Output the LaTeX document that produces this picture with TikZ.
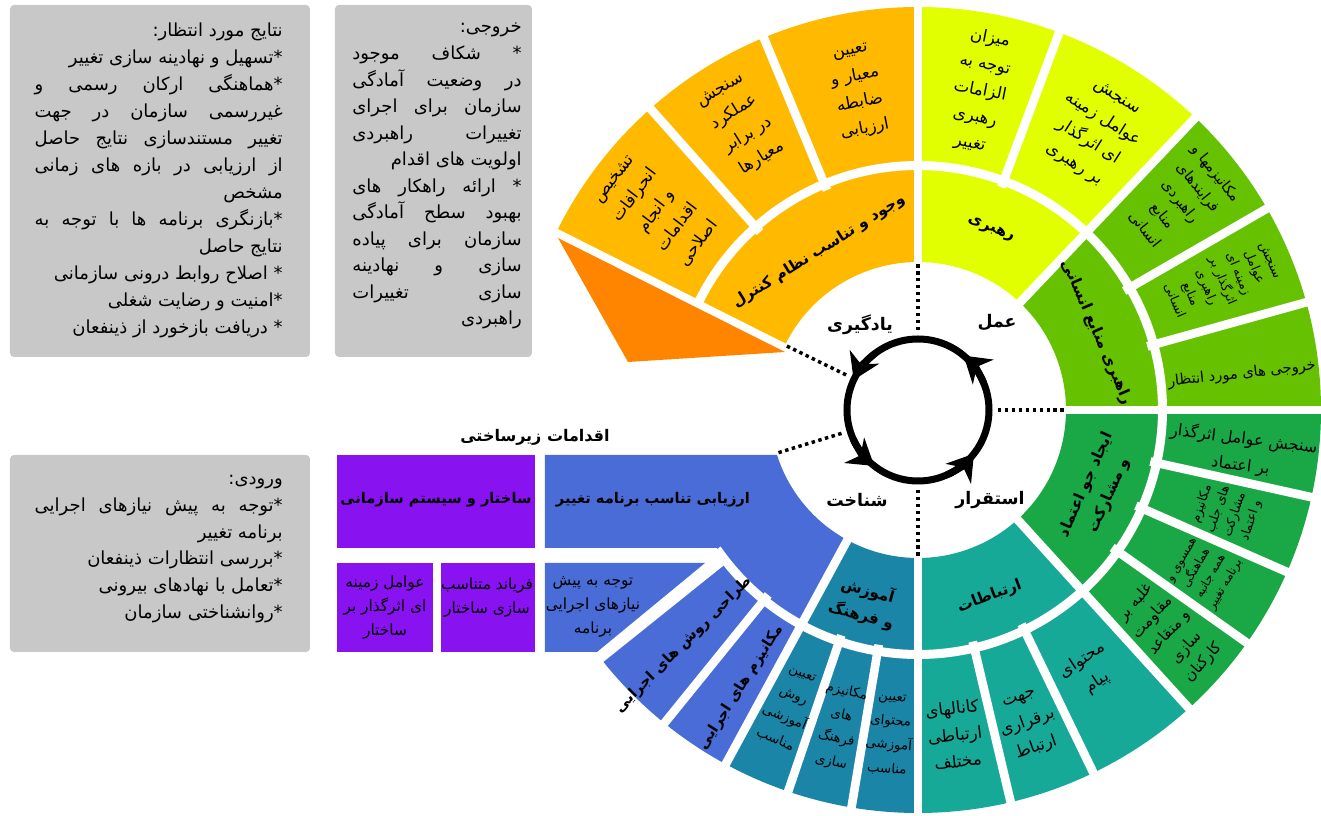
\documentclass[tikz,border=0pt]{standalone}
\usepackage{fontspec}
\usetikzlibrary{arrows.meta}
\newfontfamily\fa[Script=Arabic]{DejaVu Sans}
\TeXXeTstate=1
\newcommand{\rl}[1]{\beginR #1\endR}
\newdimen\bw
\newcommand{\JL}[1]{\hbox to \bw{\beginR #1\endR}}
\newcommand{\RL}[1]{\hbox to \bw{\hfil\beginR #1\endR}}
\newcommand{\sect}[5]{\fill[#1] (#2:#4) arc[start angle=#2, end angle=#3, radius=#4] -- (#3:#5) arc[start angle=#3, end angle=#2, radius=#5] -- cycle;}
\definecolor{cyel}{HTML}{E2FF00}
\definecolor{clg}{HTML}{66C200}
\definecolor{cdg}{HTML}{1AA846}
\definecolor{cteal}{HTML}{17A997}
\definecolor{cbt}{HTML}{1A85A6}
\definecolor{cblue}{HTML}{496CD6}
\definecolor{cpur}{HTML}{8912F0}
\definecolor{camb}{HTML}{FFBA00}
\definecolor{corg}{HTML}{FF8400}
\definecolor{cgray}{HTML}{C8C8C8}
\begin{document}
\begin{tikzpicture}[x=0.75pt,y=0.75pt,
 lab/.style={font=\fa\fontsize{12.5}{20}\selectfont, align=center, inner sep=0pt},
 labm/.style={font=\fa\fontsize{11}{17}\selectfont, align=center, inner sep=0pt},
 labt/.style={font=\fa\fontsize{10}{18}\selectfont, align=center, inner sep=0pt},
 labs/.style={font=\fa\fontsize{9.5}{13}\selectfont, align=center, inner sep=0pt},
 labb/.style={font=\fa\bfseries\fontsize{11}{18}\selectfont, align=center, inner sep=0pt},
 head/.style={font=\fa\bfseries\fontsize{13}{20}\selectfont, align=center, inner sep=0pt},
 headr/.style={font=\fa\bfseries\fontsize{11.5}{19}\selectfont, align=center, inner sep=0pt},
 gap/.style={white, line width=6.5pt},
 dotl/.style={line width=2.6pt, dash pattern=on 2.6pt off 2.6pt},
 gbox/.style={fill=cgray, rounded corners=3pt},
 boxtxt/.style={font=\fa\fontsize{13.5}{20}\selectfont, inner sep=0pt, anchor=base east}]
\useasboundingbox (-918,-406) rectangle (403,410);
% gray boxes
\fill[gbox] (-908,53) rectangle (-608,405);
\fill[gbox] (-583,53) rectangle (-386,405);
\fill[gbox] (-908,-242) rectangle (-608,-45);
% ring sectors
\sect{cyel}{46.5}{90}{148}{403}
\sect{clg}{0}{46.5}{148}{403}
\sect{cdg}{-47.75}{0}{148}{403}
\sect{cteal}{-90}{-47.75}{148}{403}
\sect{cbt}{-118.5}{-90}{148}{403}
\sect{cblue}{-141.3}{-118.5}{244}{403}
\sect{camb}{90}{153.3}{148}{403}
% big blue shape
\fill[cblue] (-373,-45) -- (-162.3:148) arc[start angle=-162.3, end angle=-118.5, radius=148] -- (-118.5:244) arc[start angle=-118.5, end angle=-145.6, radius=244] -- (-373,-138) -- cycle;
\fill[cblue] (-373,-153) -- (-213,-153) -- (-321,-242) -- (-373,-242) -- cycle;
% purple boxes
\fill[cpur] (-581,-138) rectangle (-383,-45);
\fill[cpur] (-581,-242) rectangle (-485,-153);
\fill[cpur] (-477,-242) rectangle (-383,-153);
% orange triangle
\fill[corg] (-360,172) -- (-133,58) -- (-290,48) -- cycle;
% white gaps
\foreach \a in {90,46.5,0,-47.75,-90,-118.5} \draw[gap] (\a:140) -- (\a:410);
\foreach \a in {69.5,30,15.5,-12.5,-23.7,-35.3,-64.2,-76.7,-99.5,-108.8,-129,112.5,131.6} \draw[gap] (\a:238) -- (\a:410);
\draw[white, line width=6.75pt] (-145.3:244.5) arc[start angle=-145.3, end angle=155, radius=244.5];
% dotted lines
\foreach \a in {90,0,-90,154,197} \draw[dotl] (\a:80) -- (\a:148);
% cycle arrows
\draw[line width=5.25pt] (0,0) circle[radius=71];
\foreach \s/\e in {22/50,127/155,204/232,-66/-38} \draw[line width=5.25pt,-{Stealth[length=19pt,width=24pt,inset=6pt]}] (\s:71) arc[start angle=\s, end angle=\e, radius=71];
\node[head] (l1) at (79,87) {\rl{عمل}};
\node[head] (l2) at (-58,85) {\rl{یادگیری}};
\node[head] (l3) at (-61,-90) {\rl{شناخت}};
\node[head] (l4) at (72,-90) {\rl{استقرار}};
% boxes text
\node[boxtxt] (b1) at (-635,373) {\vtop{\bw=186pt\baselineskip=20.2pt
\RL{نتایج مورد انتظار:}
\RL{*تسهیل و نهادینه سازی تغییر}
\JL{*هماهنگی ارکان رسمی و}
\JL{غیررسمی سازمان در جهت}
\JL{تغییر مستندسازی نتایج حاصل}
\JL{از ارزیابی در بازه های زمانی}
\RL{مشخص}
\JL{*بازنگری برنامه ها با توجه به}
\RL{نتایج حاصل}
\RL{* اصلاح روابط درونی سازمانی}
\RL{*امنیت و رضایت شغلی}
\RL{* دریافت بازخورد از ذینفعان}}};
\node[boxtxt] (b2) at (-396,377) {\vtop{\bw=127pt\baselineskip=19.9pt
\RL{خروجی:}
\JL{* شکاف موجود}
\JL{در وضعیت آمادگی}
\JL{سازمان برای اجرای}
\JL{تغییرات راهبردی}
\RL{اولویت های اقدام}
\JL{* ارائه راهکار های}
\JL{بهبود سطح آمادگی}
\JL{سازمان برای پیاده}
\JL{سازی و نهادینه}
\JL{سازی تغییرات}
\RL{راهبردی}}};
\node[boxtxt] (b3) at (-635,-75) {\vtop{\bw=186pt\baselineskip=20pt
\RL{ورودی:}
\JL{*توجه به پیش نیازهای اجرایی}
\RL{برنامه تغییر}
\RL{*بررسی انتظارات ذینفعان}
\RL{*تعامل با نهادهای بیرونی}
\RL{*روانشناختی سازمان}}};
\node[head, font=\fa\bfseries\fontsize{12}{20}\selectfont] (t) at (-383,-27) {\rl{اقدامات زیرساختی}};
% inner ring labels
\node[headr, rotate=-22] (n1) at (68:195) {\rl{رهبری}};
\node[headr, rotate=-66.5] (n2) at (23.5:195) {\rl{راهبری منابع انسانی}};
\node[headr, rotate=32] (n3) at (122:187) {\rl{وجود و تناسب نظام کنترل}};
\node[headr, rotate=66] (n4) at (-24:197) {\rl{ایجاد جو اعتماد}\\\rl{و مشارکت}};
\node[headr, rotate=21] (n5) at (-69:200) {\rl{ارتباطات}};
\node[headr, rotate=-15.5] (n6) at (-105.5:200) {\rl{آموزش}\\\rl{و فرهنگ}};
\node[headr, font=\fa\bfseries\fontsize{11}{19}\selectfont] (n7) at (-265,-90) {\rl{ارزیابی تناسب برنامه تغییر}};
\node[headr, font=\fa\bfseries\fontsize{11}{19}\selectfont] (n8) at (-482,-90) {\rl{ساختار و سیستم سازمانی}};
% outer ring labels
\node[lab, rotate=-11] (o1) at (79:325) {\rl{میزان}\\\rl{توجه به}\\\rl{الزامات}\\\rl{رهبری}\\\rl{تغییر}};
\node[lab, rotate=-32.5] (o2) at (57.5:330) {\rl{سنجش}\\\rl{عوامل زمینه}\\\rl{ای اثرگذار}\\\rl{بر رهبری}};
\node[labm, rotate=-51.5] (o3) at (38.5:335) {\rl{مکانیزمها و}\\\rl{فرایندهای}\\\rl{راهبردی}\\\rl{منابع}\\\rl{انسانی}};
\node[labs, rotate=-67] (o4) at (23:330) {\rl{سنجش}\\\rl{عوامل}\\\rl{زمینه ای}\\\rl{اثرگذار بر}\\\rl{راهبری}\\\rl{منابع}\\\rl{انسانی}};
\node[labm, rotate=6.3] (o5) at (6.3:326) {\rl{خروجی های مورد انتظار}};
\node[lab, font=\fa\fontsize{12}{20}\selectfont, rotate=-7] (o6) at (-7.4:327) {\rl{سنجش عوامل اثرگذار}\\\rl{بر اعتماد}};
\node[labs, rotate=71.7] (o7) at (-18.3:325) {\rl{مکانیزم}\\\rl{های جلب}\\\rl{مشارکت}\\\rl{و اعتماد}};
\node[labs, font=\fa\fontsize{9}{12.5}\selectfont, rotate=60.4] (o8) at (-29.6:330) {\rl{همسوی و}\\\rl{هماهنگی}\\\rl{همه جانبه}\\\rl{برنامه تغییر}};
\node[labm, font=\fa\fontsize{11.5}{17}\selectfont, rotate=48.5] (o9) at (-41.5:336) {\rl{غلبه بر}\\\rl{مقاومت}\\\rl{و متقاعد}\\\rl{سازی}\\\rl{کارکنان}};
\node[lab, rotate=33.3] (o10) at (-56.7:313) {\rl{محتوای}\\\rl{پیام}};
\node[lab, rotate=19.3] (o11) at (-70.7:334) {\rl{جهت}\\\rl{برقراری}\\\rl{ارتباط}};
\node[lab, rotate=6.5] (o12) at (-83.5:327) {\rl{کانالهای}\\\rl{ارتباطی}\\\rl{مختلف}};
\node[labt, rotate=-4.6] (o13) at (-95:326) {\rl{تعیین}\\\rl{محتوای}\\\rl{آموزشی}\\\rl{مناسب}};
\node[labt, rotate=-12.4] (o14) at (-104:327) {\rl{مکانیزم}\\\rl{های}\\\rl{فرهنگ}\\\rl{سازی}};
\node[labt, rotate=-22.6] (o15) at (-113.5:325) {\rl{تعیین}\\\rl{روش}\\\rl{آموزشی}\\\rl{مناسب}};
\node[labb, rotate=57.5] (o16) at (-122.5:329) {\rl{مکانیزم های اجرایی}};
\node[labb, rotate=45] (o17) at (-135:332) {\rl{طراحی روش های اجرایی}};
\node[labm, font=\fa\fontsize{11.5}{18}\selectfont] (o18) at (-325,-197) {\rl{توجه به پیش}\\\rl{نیازهای اجرایی}\\\rl{برنامه}};
\node[labm, font=\fa\fontsize{11.5}{18}\selectfont] (o19) at (-431,-188) {\rl{فریاند متناسب}\\\rl{سازی ساختار}};
\node[labm, font=\fa\fontsize{11.5}{18}\selectfont] (o20) at (-533,-198) {\rl{عوامل زمینه}\\\rl{ای اثرگذار بر}\\\rl{ساختار}};
\node[lab, rotate=10.7] (o21) at (100.7:324) {\rl{تعیین}\\\rl{معیار و}\\\rl{ضابطه}\\\rl{ارزیابی}};
\node[lab, rotate=31.7] (o22) at (121.7:335) {\rl{سنجش}\\\rl{عملکرد}\\\rl{در برابر}\\\rl{معیارها}};
\node[lab, rotate=52.8] (o23) at (142.8:328) {\rl{تشخیص}\\\rl{انحرافات}\\\rl{و انجام}\\\rl{اقدامات}\\\rl{اصلاحی}};
\end{tikzpicture}
\end{document}
